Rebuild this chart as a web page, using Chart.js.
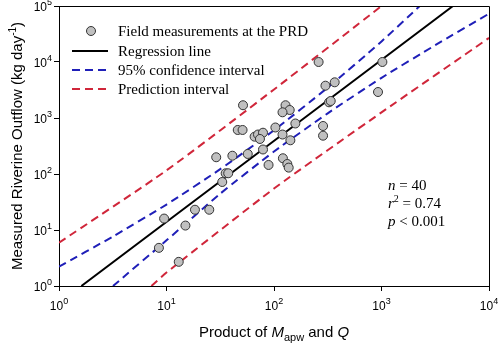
<!DOCTYPE html>
<html>
<head>
<meta charset="utf-8">
<script src="https://cdn.jsdelivr.net/npm/chart.js@4.4.1/dist/chart.umd.min.js"></script>
<style>
  html, body { margin: 0; padding: 0; background: #fff; }
</style>
</head>
<body>
<canvas id="myChart" width="500" height="343"></canvas>
<script>
// Field measurements (product of M_apw and Q vs measured outflow)
const measX = [8.5, 9.5, 13, 15, 18.4, 25, 33, 35.5, 37.5, 29, 41, 57, 46, 51, 51.5, 66, 71, 79, 74, 79,
               89, 103, 120, 121, 133, 137, 142, 128, 140, 120, 158, 260, 286, 286, 301, 367, 325, 337, 928, 1019];
const measY = [4.8, 16, 2.7, 12, 23, 23, 72, 103, 103, 199, 212, 228, 611, 611, 1690, 464, 507, 546, 422, 274,
               145, 677, 507, 191, 151, 130, 400, 1690, 1390, 1265, 798, 10000, 720, 483, 3775, 4340, 1907, 2013, 2912, 10000];

// Regression line
const regX = [1.615, 4624];
const regY = [1, 100000];

// 95% confidence interval
const ciUpperX = [1, 3.16, 10, 31.6, 100, 316, 1000, 2270];
const ciUpperY = [2.21, 7.62, 28.5, 122, 604, 3500, 23300, 100000];
const ciLowerX = [3.18, 10, 31.6, 100, 316, 1000, 3162, 10000];
const ciLowerY = [1, 6.53, 44.5, 252, 1213, 5212, 19950, 72950];

// Prediction interval
const piUpperX = [1, 10, 100, 1000];
const piUpperY = [5.93, 116, 3236, 100000];
const piLowerX = [7.24, 10, 100, 1000, 10000];
const piLowerY = [1, 1.74, 55, 1259, 26900];

// ticks: powers of ten, labelled as 10 with an exponent
const xTickValues = [1, 10, 100, 1000, 10000];
const xTickExps = ['0', '1', '2', '3', '4'];
const yTickValues = [1, 10, 100, 1000, 10000, 100000];
const yTickExps = ['0', '1', '2', '3', '4', '5'];

const BLUE = '#1f1fb8';
const RED = '#d0263a';
const SANS = "'Liberation Sans', Arial, sans-serif";
const SERIF = "'Liberation Serif', 'Times New Roman', serif";

function toPoints(xs, ys) {
    return xs.map((x, i) => ({ x: x, y: ys[i] }));
}

// draw a row of text pieces with their own fonts and vertical shifts
function drawRuns(ctx, runs, x, y, align) {
    let total = 0;
    runs.forEach(r => { ctx.font = r.font; r.w = ctx.measureText(r.text).width; total += r.w; });
    let cx = x;
    if (align === 'center') cx = x - total / 2;
    if (align === 'right') cx = x - total;
    runs.forEach(r => {
        ctx.font = r.font;
        ctx.fillText(r.text, cx, y + (r.dy || 0));
        cx += r.w;
    });
}

function powerLabel(exp) {
    return [
        { text: '10', font: '12px ' + SANS },
        { text: exp, font: '9px ' + SANS, dy: -6 }
    ];
}

const decorPlugin = {
    id: 'decor',
    afterDraw(chart) {
        const ctx = chart.ctx;
        const area = chart.chartArea;
        const xs = chart.scales.x, ys = chart.scales.y;
        ctx.save();

        // frame on top and right
        ctx.strokeStyle = '#000';
        ctx.lineWidth = 1;
        ctx.beginPath();
        ctx.moveTo(area.left, area.top + 0.5);
        ctx.lineTo(area.right + 0.5, area.top + 0.5);
        ctx.lineTo(area.right + 0.5, area.bottom);
        ctx.stroke();

        ctx.fillStyle = '#000';
        ctx.textBaseline = 'alphabetic';

        // tick labels
        xTickValues.forEach((v, i) => {
            drawRuns(ctx, powerLabel(xTickExps[i]), xs.getPixelForValue(v), 309.5, 'center');
        });
        yTickValues.forEach((v, i) => {
            drawRuns(ctx, powerLabel(yTickExps[i]), 52, ys.getPixelForValue(v) + 4.5, 'right');
        });

        // x axis title
        drawRuns(ctx, [
            { text: 'Product of ', font: '15px ' + SANS },
            { text: 'M', font: 'italic 15px ' + SANS },
            { text: 'apw', font: '11px ' + SANS, dy: 4 },
            { text: ' and ', font: '15px ' + SANS },
            { text: 'Q', font: 'italic 15px ' + SANS }
        ], (area.left + area.right) / 2, 337, 'center');

        // y axis title
        ctx.save();
        ctx.translate(22, (area.top + area.bottom) / 2);
        ctx.rotate(-Math.PI / 2);
        drawRuns(ctx, [
            { text: 'Measured Riverine Outflow (kg day', font: '15px ' + SANS },
            { text: '-1', font: '10px ' + SANS, dy: -6 },
            { text: ')', font: '15px ' + SANS }
        ], 0, 0, 'center');
        ctx.restore();

        // legend
        const lx0 = 72, lx1 = 108, tx = 118;
        const rows = [31, 51, 70, 89];
        ctx.font = '15px ' + SERIF;
        ctx.textBaseline = 'middle';
        ctx.beginPath();
        ctx.arc(91, rows[0], 4.5, 0, Math.PI * 2);
        ctx.fillStyle = '#c0c0c0';
        ctx.fill();
        ctx.strokeStyle = '#333';
        ctx.lineWidth = 1;
        ctx.stroke();
        const lineStyles = [['#000', []], [BLUE, [8, 5]], [RED, [8, 5]]];
        lineStyles.forEach((s, i) => {
            ctx.strokeStyle = s[0];
            ctx.setLineDash(s[1]);
            ctx.lineWidth = 2;
            ctx.beginPath();
            ctx.moveTo(lx0, rows[i + 1]);
            ctx.lineTo(lx1, rows[i + 1]);
            ctx.stroke();
        });
        ctx.setLineDash([]);
        ctx.fillStyle = '#000';
        ['Field measurements at the PRD', 'Regression line', '95% confidence interval', 'Prediction interval']
            .forEach((t, i) => ctx.fillText(t, tx, rows[i] + 1));

        // statistics
        ctx.textBaseline = 'middle';
        drawRuns(ctx, [
            { text: 'n', font: 'italic 15px ' + SERIF },
            { text: ' = 40', font: '15px ' + SERIF }
        ], 388, 186, 'left');
        drawRuns(ctx, [
            { text: 'r', font: 'italic 15px ' + SERIF },
            { text: '2', font: '10px ' + SERIF, dy: -5 },
            { text: ' = 0.74', font: '15px ' + SERIF }
        ], 388, 204, 'left');
        drawRuns(ctx, [
            { text: 'p', font: 'italic 15px ' + SERIF },
            { text: ' < 0.001', font: '15px ' + SERIF }
        ], 388, 222, 'left');

        ctx.restore();
    }
};

function lineSet(xs, ys, color, dash) {
    return {
        data: toPoints(xs, ys),
        showLine: true,
        borderColor: color,
        borderWidth: 2,
        borderDash: dash,
        pointRadius: 0,
        tension: 0.2,
        fill: false,
        clip: 0,
        order: 1
    };
}

const ctx = document.getElementById('myChart').getContext('2d');
new Chart(ctx, {
    type: 'scatter',
    data: {
        datasets: [
            {
                data: toPoints(measX, measY),
                backgroundColor: '#c0c0c0',
                borderColor: '#333',
                borderWidth: 1,
                pointRadius: 4.5,
                order: 0
            },
            lineSet(regX, regY, '#000', []),
            lineSet(ciUpperX, ciUpperY, BLUE, [8, 5]),
            lineSet(ciLowerX, ciLowerY, BLUE, [8, 5]),
            lineSet(piUpperX, piUpperY, RED, [8, 5]),
            lineSet(piLowerX, piLowerY, RED, [8, 5])
        ]
    },
    options: {
        responsive: false,
        animation: false,
        layout: { padding: { left: 0, right: 11, top: 6, bottom: 0 } },
        plugins: {
            legend: { display: false },
            tooltip: { enabled: false }
        },
        scales: {
            x: {
                type: 'logarithmic',
                min: 1,
                max: 10000,
                afterBuildTicks: scale => { scale.ticks = xTickValues.map(v => ({ value: v })); },
                afterFit: scale => { scale.height = 57; },
                grid: { drawOnChartArea: false, color: '#000', tickLength: 5 },
                border: { color: '#000', width: 1 },
                ticks: { display: false }
            },
            y: {
                type: 'logarithmic',
                min: 1,
                max: 100000,
                afterBuildTicks: scale => { scale.ticks = yTickValues.map(v => ({ value: v })); },
                afterFit: scale => { scale.width = 59; },
                grid: { drawOnChartArea: false, color: '#000', tickLength: 5 },
                border: { color: '#000', width: 1 },
                ticks: { display: false }
            }
        }
    },
    plugins: [decorPlugin]
});
</script>
</body>
</html>
